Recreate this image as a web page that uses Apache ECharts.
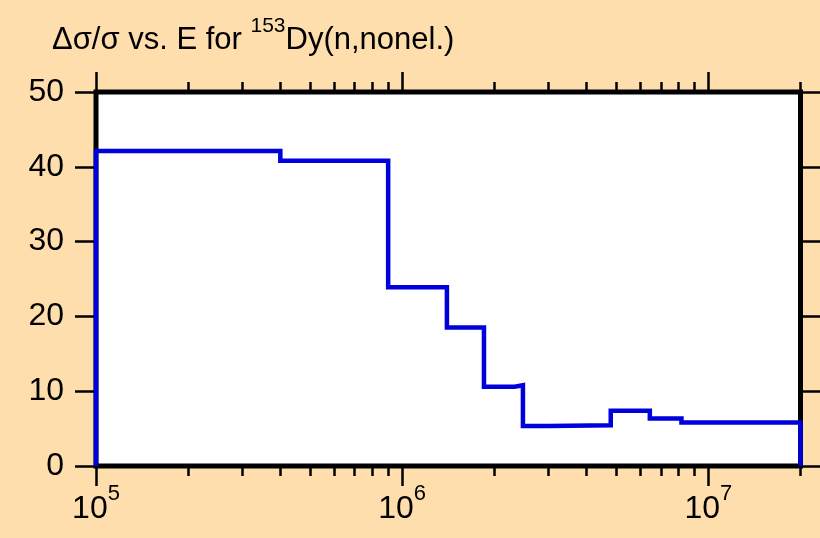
<!DOCTYPE html>
<html>
<head>
<meta charset="utf-8">
<title>153Dy(n,nonel.) uncertainty</title>
<script src="https://cdn.jsdelivr.net/npm/echarts@6/dist/echarts.min.js"></script>
<style>
  html, body { margin: 0; padding: 0; background: #FFDEAD; }
  #chart { width: 820px; height: 538px; }
</style>
</head>
<body>
<div id="chart"></div>
<script>
// bin edges (eV) and relative uncertainty (%) of each bin
const edges = [1e5, 4e5, 9e5, 1.4e6, 1.85e6, 2.33e6, 2.48e6, 3.0e6, 4.8e6, 6.44e6, 8.17e6, 2e7]
const values = [42.1, 40.8, 23.9, 18.5, 10.6, 10.8, 5.35, 5.45, 7.4, 6.35, 5.8]
const majorTicks = [1e5, 1e6, 1e7]
const minorTicks = [2e5, 3e5, 4e5, 5e5, 6e5, 7e5, 8e5, 9e5, 2e6, 3e6, 4e6, 5e6, 6e6, 7e6, 8e6, 9e6, 2e7]

// histogram outline
const points = [[edges[0], 0]]
for (let i = 0; i < values.length; i++) {
  points.push([edges[i], values[i]])
  points.push([edges[i + 1], values[i]])
}
points.push([edges[edges.length - 1], 0])

const font = 'Liberation Sans, Arial, Helvetica, sans-serif'

function xAxisOf(position, ticks, len, labels) {
  return {
    type: 'log',
    logBase: 10,
    position: position,
    min: 1e5,
    max: 2e7,
    axisLine: { show: false },
    splitLine: { show: false },
    axisTick: {
      show: true,
      inside: false,
      length: len,
      customValues: ticks,
      lineStyle: { color: '#000', width: 2.5 }
    },
    axisLabel: labels ? {
      show: true,
      customValues: majorTicks,
      margin: 17,
      formatter: function (v) {
        return '{b|10}{s|' + Math.round(Math.log10(v)) + '}'
      },
      rich: {
        b: { fontSize: 32, lineHeight: 52, color: '#000', fontFamily: font },
        s: { fontSize: 22, lineHeight: 22, verticalAlign: 'top', color: '#000', fontFamily: font }
      }
    } : { show: false }
  }
}

const chart = echarts.init(document.getElementById('chart'))
chart.setOption({
  animation: false,
  backgroundColor: '#FFDEAD',
  title: {
    text: '{a|Δσ/σ vs. E for }{s|153}{a|Dy(n,nonel.)}',
    left: 52,
    top: 16,
    padding: 0,
    textStyle: {
      fontSize: 31,
      fontWeight: 'normal',
      fontFamily: font,
      color: '#000',
      rich: {
        a: { fontSize: 31, fontWeight: 'normal', lineHeight: 48, color: '#000', fontFamily: font },
        s: { fontSize: 21, fontWeight: 'normal', lineHeight: 21, verticalAlign: 'top', color: '#000', fontFamily: font }
      }
    }
  },
  grid: {
    left: 96,
    right: 19.5,
    top: 92,
    bottom: 72,
    show: true,
    backgroundColor: '#fff',
    borderColor: '#000',
    borderWidth: 5
  },
  xAxis: [
    xAxisOf('bottom', majorTicks, 20, true),
    xAxisOf('bottom', minorTicks, 10, false),
    xAxisOf('top', majorTicks, 20, false),
    xAxisOf('top', minorTicks, 10, false)
  ],
  yAxis: [
    {
      type: 'value',
      position: 'left',
      min: 0,
      max: 50,
      interval: 10,
      axisLine: { show: false },
      splitLine: { show: false },
      axisTick: { show: true, inside: false, length: 21, lineStyle: { color: '#000', width: 2.5 } },
      axisLabel: { margin: 32, fontSize: 32, color: '#000', fontFamily: font }
    },
    {
      type: 'value',
      position: 'right',
      min: 0,
      max: 50,
      interval: 10,
      axisLine: { show: false },
      splitLine: { show: false },
      axisTick: { show: true, inside: false, length: 20, lineStyle: { color: '#000', width: 2.5 } },
      axisLabel: { show: false }
    }
  ],
  series: [
    {
      type: 'line',
      data: points,
      xAxisIndex: 0,
      yAxisIndex: 0,
      symbol: 'none',
      clip: false,
      lineStyle: { color: '#0000DC', width: 4.5, join: 'miter' }
    }
  ]
})
</script>
</body>
</html>
